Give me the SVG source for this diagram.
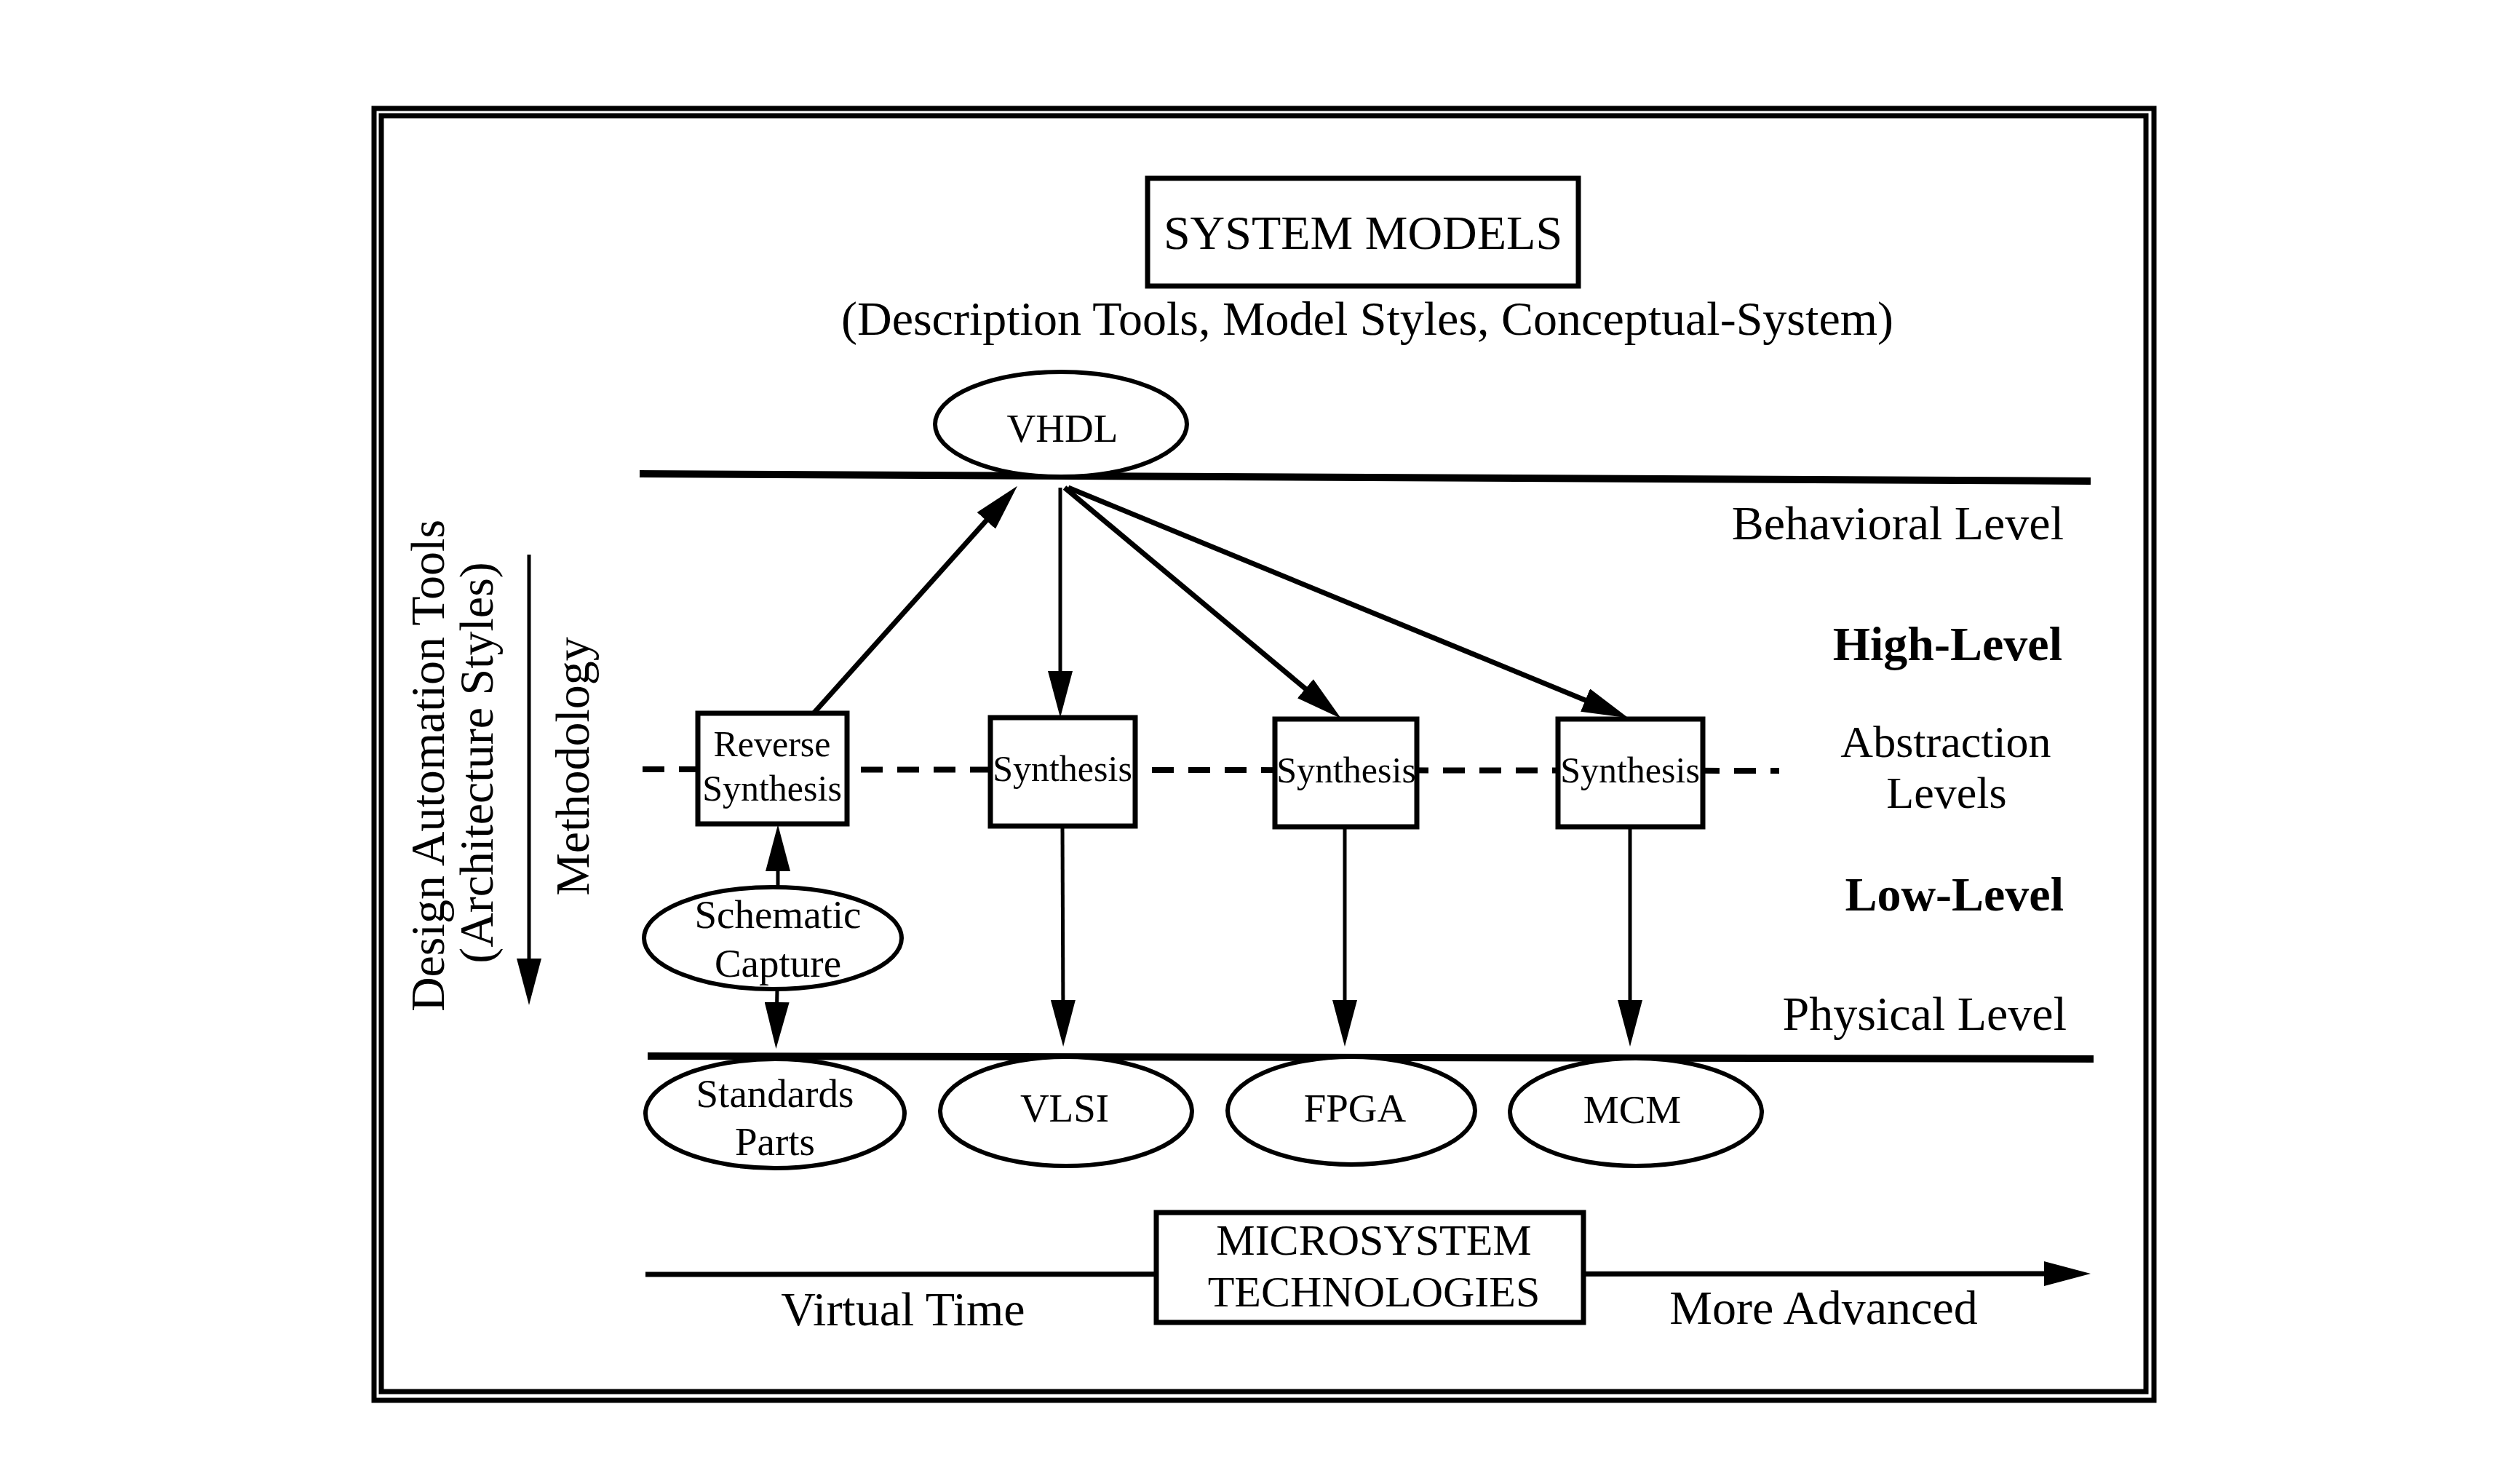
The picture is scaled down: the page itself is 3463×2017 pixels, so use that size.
<svg xmlns="http://www.w3.org/2000/svg" width="3463" height="2017" viewBox="0 0 3463 2017">
<style>
text{font-family:"Liberation Serif","Times New Roman",serif;fill:#000}
.t66{font-size:66px}
.t55{font-size:55px}
.t50{font-size:50px}
.b{font-weight:bold}
.box{fill:#fff;stroke:#000;stroke-width:7}
.ell{fill:#fff;stroke:#000;stroke-width:6}
.lvl{stroke:#000;stroke-width:10;fill:none}
.frame{fill:none;stroke:#000;stroke-width:7}
.c{stroke:#000;fill:none}
.thick{stroke-width:7}
.thin{stroke-width:5}
</style>
<defs>
<marker id="ah" markerUnits="userSpaceOnUse" markerWidth="64" markerHeight="34" refX="34" refY="17" orient="auto">
<path d="M0,0 L64,17 L0,34 Z" fill="#000"/>
</marker>
</defs>
<rect width="3463" height="2017" fill="#fff"/>
<g id="frame">
<rect class="frame" x="514" y="149" width="2446" height="1775"/>
<rect class="frame" x="524" y="159" width="2425" height="1753"/>
</g>
<g id="levels">
<line class="lvl" x1="879" y1="651" x2="2873" y2="661"/>
<line class="lvl" x1="890" y1="1451" x2="2877" y2="1455"/>
<line stroke="#000" stroke-width="8" stroke-dasharray="30 20" x1="883" y1="1057" x2="2445" y2="1059"/>
</g>
<g id="connectors">
<line class="c thick" x1="1118" y1="980" x2="1378" y2="690" marker-end="url(#ah)"/>
<line class="c thin" x1="1457" y1="670" x2="1457" y2="956" marker-end="url(#ah)"/>
<line class="c thick" x1="1463" y1="670" x2="1820" y2="968" marker-end="url(#ah)"/>
<line class="c thick" x1="1468" y1="670" x2="2210" y2="975" marker-end="url(#ah)"/>
<line class="c thin" x1="1460" y1="1135" x2="1461" y2="1408" marker-end="url(#ah)"/>
<line class="c thin" x1="1848" y1="1135" x2="1848" y2="1408" marker-end="url(#ah)"/>
<line class="c thin" x1="2240" y1="1135" x2="2240" y2="1408" marker-end="url(#ah)"/>
<line class="c thin" x1="1069" y1="1220" x2="1069" y2="1163" marker-end="url(#ah)"/>
<line class="c thin" x1="1068" y1="1358" x2="1067" y2="1411" marker-end="url(#ah)"/>
<line class="c thin" x1="727" y1="762" x2="727" y2="1351" marker-end="url(#ah)"/>
<line class="c thick" x1="887" y1="1751" x2="2843" y2="1750" marker-end="url(#ah)"/>
</g>
<g id="system-models">
<rect class="box" x="1577" y="245" width="592" height="148"/>
<text class="t66" x="1873" y="342" text-anchor="middle">SYSTEM MODELS</text>
</g>
<g id="system-models-sub">
<text class="t66" x="1879" y="460" text-anchor="middle">(Description Tools, Model Styles, Conceptual-System)</text>
</g>
<g id="vhdl">
<ellipse class="ell" cx="1458" cy="583" rx="173" ry="72"/>
<text class="t55" x="1460" y="607" text-anchor="middle">VHDL</text>
</g>
<g id="reverse-synthesis">
<rect class="box" x="959" y="980" width="205" height="152"/>
<text class="t50" x="1061" y="1039" text-anchor="middle">Reverse</text>
<text class="t50" x="1061" y="1100" text-anchor="middle">Synthesis</text>
</g>
<g id="synthesis-1">
<rect class="box" x="1361" y="986" width="199" height="149"/>
<text class="t50" x="1460" y="1073" text-anchor="middle">Synthesis</text>
</g>
<g id="synthesis-2">
<rect class="box" x="1752" y="988" width="195" height="148"/>
<text class="t50" x="1850" y="1075" text-anchor="middle">Synthesis</text>
</g>
<g id="synthesis-3">
<rect class="box" x="2141" y="988" width="199" height="148"/>
<text class="t50" x="2240" y="1075" text-anchor="middle">Synthesis</text>
</g>
<g id="schematic-capture">
<ellipse class="ell" cx="1062" cy="1289" rx="177" ry="70"/>
<text class="t55" x="1069" y="1275" text-anchor="middle">Schematic</text>
<text class="t55" x="1069" y="1342" text-anchor="middle">Capture</text>
</g>
<g id="standards-parts">
<ellipse class="ell" cx="1065" cy="1530" rx="178" ry="75"/>
<text class="t55" x="1065" y="1521" text-anchor="middle">Standards</text>
<text class="t55" x="1065" y="1587" text-anchor="middle">Parts</text>
</g>
<g id="vlsi">
<ellipse class="ell" cx="1465" cy="1527" rx="173" ry="75"/>
<text class="t55" x="1463" y="1541" text-anchor="middle">VLSI</text>
</g>
<g id="fpga">
<ellipse class="ell" cx="1857" cy="1526" rx="170" ry="74"/>
<text class="t55" x="1862" y="1541" text-anchor="middle">FPGA</text>
</g>
<g id="mcm">
<ellipse class="ell" cx="2248" cy="1528" rx="173" ry="74"/>
<text class="t55" x="2243" y="1543" text-anchor="middle">MCM</text>
</g>
<g id="microsystem">
<rect class="box" x="1589" y="1666" width="587" height="151"/>
<text x="1888" y="1724" text-anchor="middle" font-size="60">MICROSYSTEM</text>
<text x="1888" y="1795" text-anchor="middle" font-size="60">TECHNOLOGIES</text>
</g>
<g id="labels">
<text class="t66" x="2836" y="741" text-anchor="end">Behavioral Level</text>
<text class="t66 b" x="2834" y="907" text-anchor="end">High-Level</text>
<text x="2674" y="1040" text-anchor="middle" font-size="62">Abstraction</text>
<text x="2675" y="1110" text-anchor="middle" font-size="62">Levels</text>
<text class="t66 b" x="2836" y="1251" text-anchor="end">Low-Level</text>
<text class="t66" x="2840" y="1415" text-anchor="end">Physical Level</text>
<text class="t66" x="1241" y="1821" text-anchor="middle">Virtual Time</text>
<text class="t66" x="2506" y="1819" text-anchor="middle">More Advanced</text>
<text class="t66" transform="translate(610 1052) rotate(-90)" text-anchor="middle">Design Automation Tools</text>
<text class="t66" transform="translate(677 1048) rotate(-90)" text-anchor="middle">(Architecture Styles)</text>
<text class="t66" transform="translate(809 1053) rotate(-90)" text-anchor="middle">Methodology</text>
</g>
</svg>
